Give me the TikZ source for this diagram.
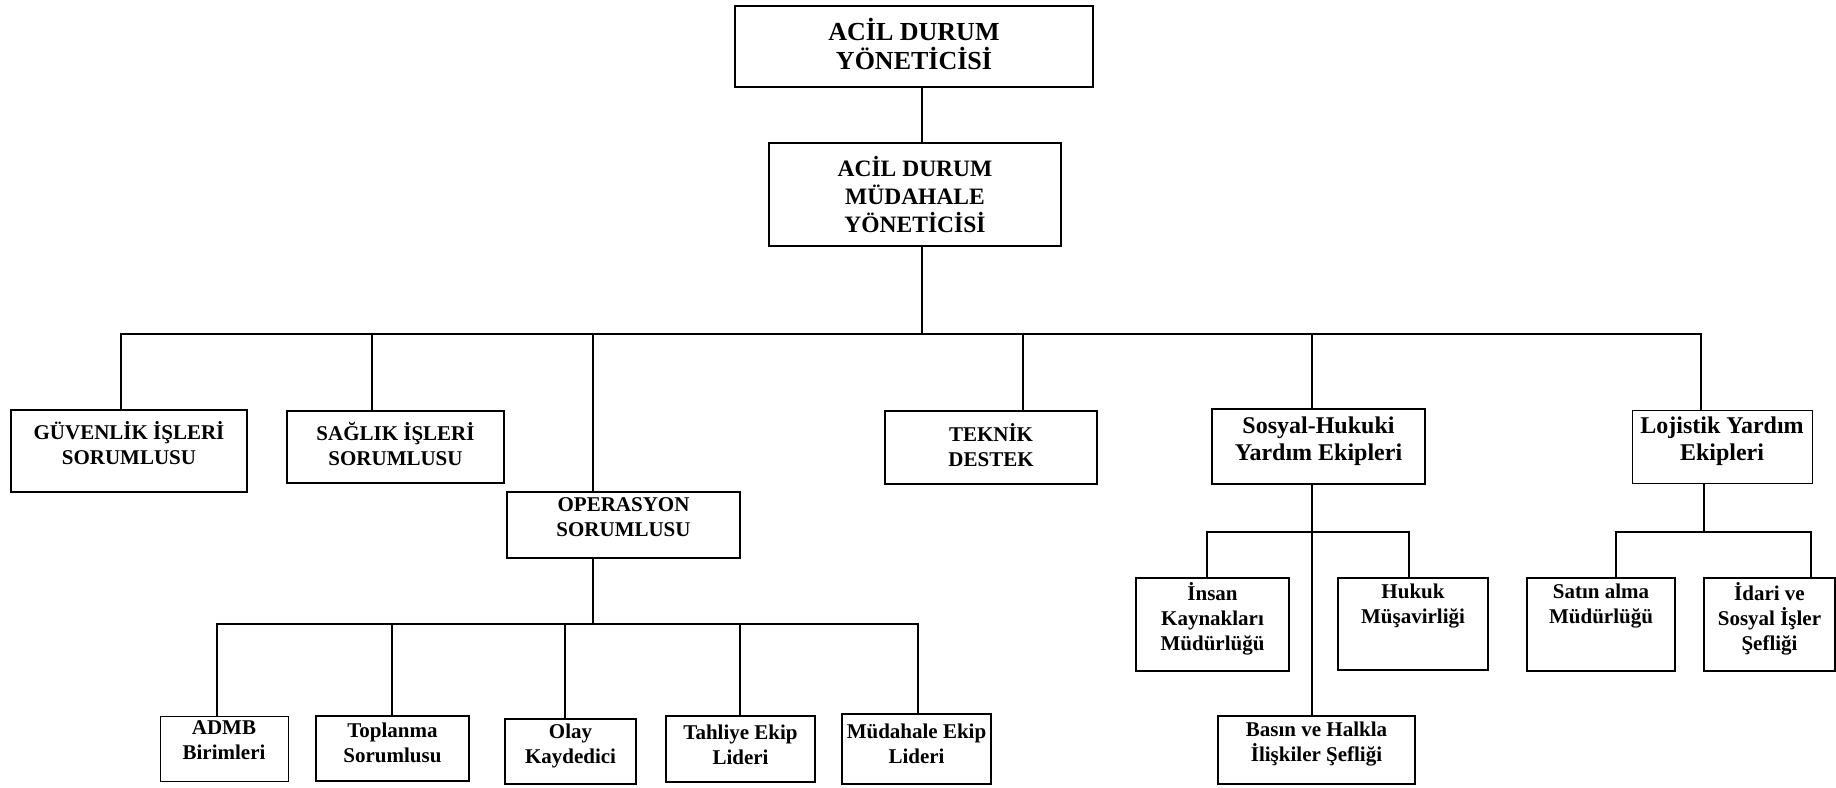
\documentclass[tikz,border=0pt]{standalone}
\usepackage{fontspec}
\setmainfont{Liberation Serif}
\begin{document}
\begin{tikzpicture}[x=1pt,y=-1pt]

        \useasboundingbox (0,0) rectangle (1836,787);

        \begin{scope}[every node/.style={draw,line width=2pt,align=center,inner sep=2pt,text depth=16pt,
            font=\bfseries\fontsize{21}{25}\selectfont}]
          \node[minimum width=358,minimum height=81,text depth=5pt,font=\bfseries\fontsize{26}{29}\selectfont]
            (top) at (914,46.5) {ACİL DURUM\\YÖNETİCİSİ};
          \node[minimum width=292,minimum height=103,text depth=1pt,font=\bfseries\fontsize{23.5}{28}\selectfont]
            (mid) at (915,194.5) {ACİL DURUM\\MÜDAHALE\\YÖNETİCİSİ};

          \node[minimum width=236,minimum height=82] (guv)  at (129,451)     {GÜVENLİK İŞLERİ\\SORUMLUSU};
          \node[minimum width=217,minimum height=72,text depth=6pt] (sag)  at (395.5,447) {SAĞLIK İŞLERİ\\SORUMLUSU};
          \node[minimum width=233,minimum height=66] (ops)  at (623.5,525)   {OPERASYON\\SORUMLUSU};
          \node[minimum width=212,minimum height=73,text depth=6pt] (tek)  at (991,447.5) {TEKNİK\\DESTEK};
          \node[minimum width=213,minimum height=75,font=\bfseries\fontsize{24}{27.5}\selectfont]
            (sos)  at (1318.5,446.5) {Sosyal-Hukuki\\Yardım Ekipleri};
          \node[minimum width=180,minimum height=73,line width=1pt,font=\bfseries\fontsize{24}{27.5}\selectfont]
            (loj) at (1722,446.5) {Lojistik Yardım\\Ekipleri};

          \node[minimum width=153,minimum height=93] (ins)  at (1212.5,624.5) {İnsan\\Kaynakları\\Müdürlüğü};
          \node[minimum width=150,minimum height=92] (huk)  at (1413,624)     {Hukuk\\Müşavirliği\\\strut};
          \node[minimum width=197,minimum height=68] (bas)  at (1316.5,750)   {Basın ve Halkla\\İlişkiler Şefliği};
          \node[minimum width=148,minimum height=93] (sat)  at (1601,624.5)   {Satın alma\\Müdürlüğü\\\strut};
          \node[minimum width=131,minimum height=93] (ida)  at (1769.5,624.5) {İdari ve\\Sosyal İşler\\Şefliği};

          \node[minimum width=128,minimum height=65,line width=1pt] (admb) at (224,748.5) {ADMB\\Birimleri};
          \node[minimum width=153,minimum height=65,text depth=12pt] (topl) at (392.5,748.5) {Toplanma\\Sorumlusu};
          \node[minimum width=131,minimum height=65] (olay) at (570.5,751.5) {Olay\\Kaydedici};
          \node[minimum width=149,minimum height=66,text depth=9pt] (tahl) at (740.5,749)   {Tahliye Ekip\\Lideri};
          \node[minimum width=149,minimum height=70,text depth=9pt] (mdhl) at (916.5,748.5) {Müdahale Ekip\\Lideri};
        \end{scope}

        \coordinate (bus1) at (922,334);
        \coordinate (bus2) at (593,624);
        \coordinate (bus3) at (1312,532);
        \coordinate (bus4) at (1704,532);

        \begin{scope}[line width=1.6pt,line cap=rect]
          \draw (top.south -| bus1) -- (mid.north -| bus1);
          \draw (mid.south -| bus1) -- (bus1);
          \draw (bus1 -| 121,0) -- (bus1 -| 1701,0);
          \foreach \n/\x in {guv/121,sag/372,ops/593,tek/1023,sos/1312,loj/1701}
            \draw (bus1 -| \x,0) -- (\n.north -| \x,0);

          \draw (ops.south -| bus2) -- (bus2);
          \draw (bus2 -| 217,0) -- (bus2 -| 918,0);
          \foreach \n/\x in {admb/217,topl/392,olay/565,tahl/740,mdhl/918}
            \draw (bus2 -| \x,0) -- (\n.north -| \x,0);

          \draw (sos.south -| bus3) -- (bas.north -| bus3);
          \draw (bus3 -| 1207,0) -- (bus3 -| 1409,0);
          \foreach \n/\x in {ins/1207,huk/1409}
            \draw (bus3 -| \x,0) -- (\n.north -| \x,0);

          \draw (loj.south -| bus4) -- (bus4);
          \draw (bus4 -| 1616,0) -- (bus4 -| 1811,0);
          \foreach \n/\x in {sat/1616,ida/1811}
            \draw (bus4 -| \x,0) -- (\n.north -| \x,0);
        \end{scope}

      \end{tikzpicture}
\end{document}
